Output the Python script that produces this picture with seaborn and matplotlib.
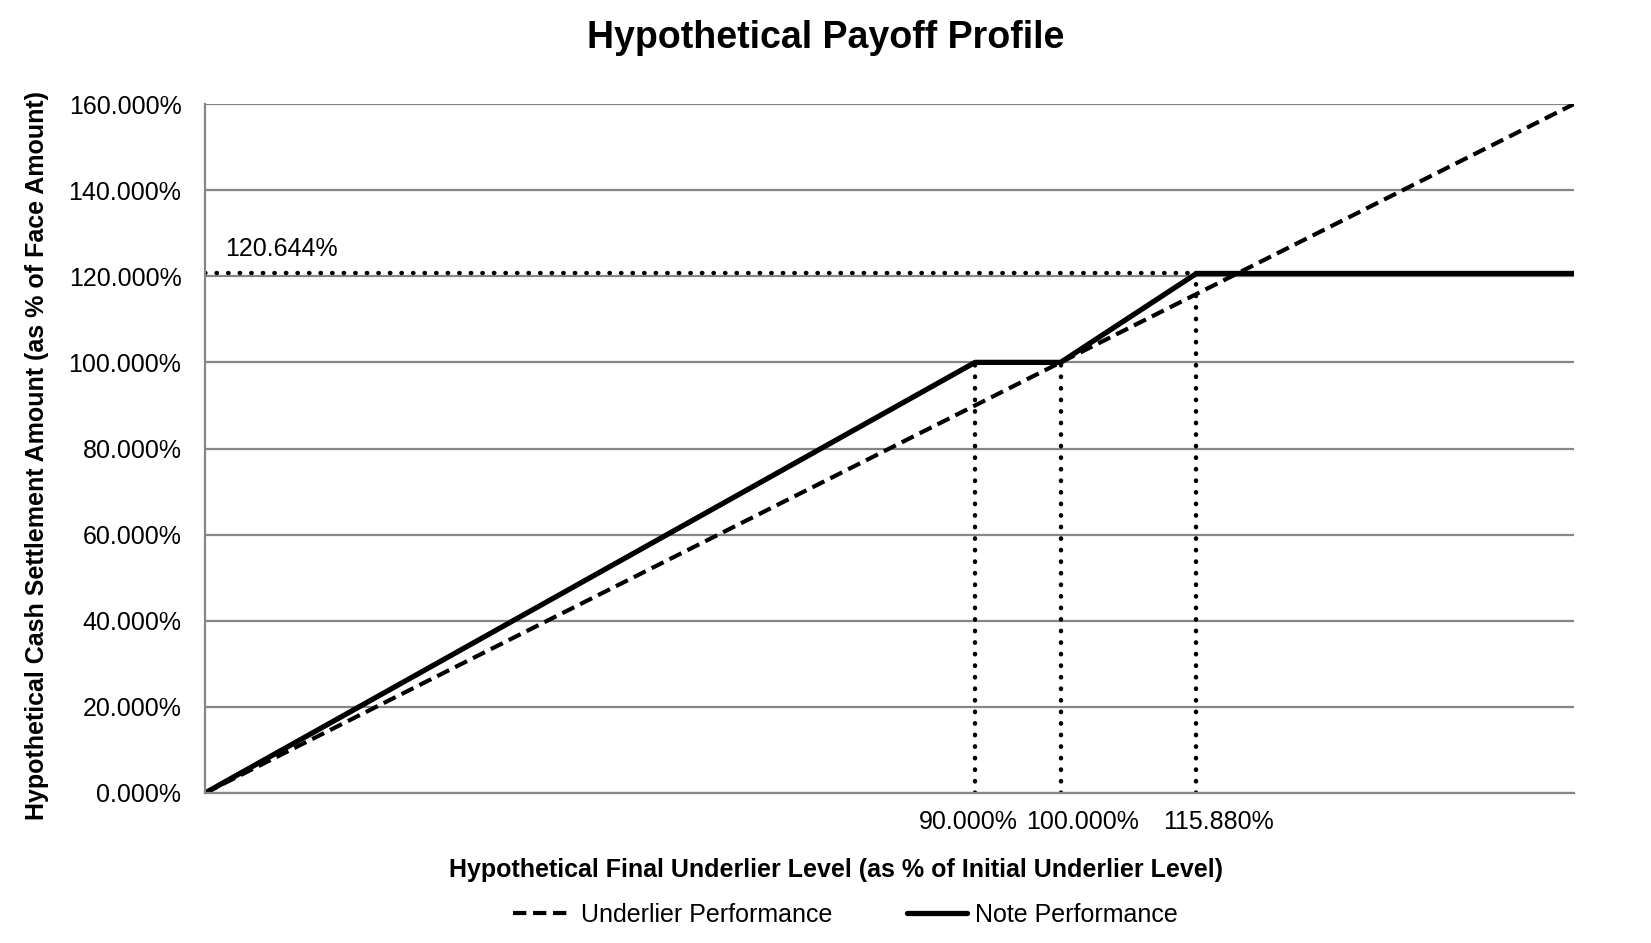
import numpy as np
import pandas as pd
import matplotlib
matplotlib.use("Agg")
import matplotlib.pyplot as plt
from matplotlib.ticker import FuncFormatter
import seaborn as sns

# payoff levels (% of initial / face amount)
underlier_x = [0, 160]
underlier_y = [0, 160]
note_x = [0, 90, 100, 115.88, 160]
note_y = [0, 100, 100, 120.644, 120.644]
buffer_level = 90
initial_level = 100
cap_level = 115.88
max_return = 120.644
x_labels = ["90.000%", "100.000%", "115.880%"]

sns.set_style("white")
plt.rcParams['font.family'] = ['Liberation Sans', 'DejaVu Sans']
plt.rcParams['text.color'] = 'black'
plt.rcParams['axes.labelcolor'] = 'black'
plt.rcParams['xtick.color'] = 'black'
plt.rcParams['ytick.color'] = 'black'

fig = plt.figure(figsize=(16.51, 9.43), dpi=100)
ax = fig.add_axes([205/1651, 1-793/943, 1369/1651, 689/943])

grid_c = "#868686"
ax.set_xlim(0, 160)
ax.set_ylim(0, 160)
ax.set_yticks(np.arange(0, 161, 20))
ax.set_xticks(np.arange(0, 151, 25))
ax.yaxis.grid(True, color=grid_c, linewidth=1.6)
ax.set_axisbelow(True)
for s in ["top", "right"]:
    ax.spines[s].set_visible(False)
for s in ["left", "bottom"]:
    ax.spines[s].set_color(grid_c)
    ax.spines[s].set_linewidth(1.6)
ax.tick_params(axis="x", direction="out", length=9, width=1.6, color=grid_c)
ax.tick_params(axis="y", direction="out", length=8, width=1.6, color=grid_c, labelsize=18, pad=9)
ax.yaxis.set_major_formatter(FuncFormatter(lambda v, p: f"{v:.3f}%"))

# dotted reference lines
dot = dict(color="black", linewidth=3.2, linestyle=(0, (0.1, 2.5)), dash_capstyle="round")
ax.plot([0, cap_level], [max_return, max_return], **dot)
ax.plot([buffer_level, buffer_level], [0, 100], **dot)
ax.plot([initial_level, initial_level], [0, 100], **dot)
ax.plot([cap_level, cap_level], [0, max_return], **dot)

df_u = pd.DataFrame({"x": underlier_x, "y": underlier_y})
df_n = pd.DataFrame({"x": note_x, "y": note_y})
sns.lineplot(data=df_u, x="x", y="y", ax=ax, color="black", linewidth=3,
             linestyle=(0, (3.2, 1.6)), label="Underlier Performance")
sns.lineplot(data=df_n, x="x", y="y", ax=ax, color="black", linewidth=3.8,
             label="Note Performance")
ax.set_xticklabels([])

ax.annotate(f"{max_return:.3f}%", (0, max_return), xytext=(20, 12), textcoords="offset pixels",
            fontsize=18, ha="left", va="bottom")
for xv, lab, off in zip([buffer_level, initial_level, cap_level], x_labels, [-7, 22, 22]):
    ax.annotate(lab, (xv, 0), xytext=(off, -29), textcoords="offset pixels",
                fontsize=18, ha="center", va="center")

ax.set_xlabel("Hypothetical Final Underlier Level (as % of Initial Underlier Level)",
              fontsize=18, fontweight="bold")
ax.xaxis.set_label_coords(0.461, -0.094)
ax.set_ylabel("Hypothetical Cash Settlement Amount (as % of Face Amount)",
              fontsize=18, fontweight="bold")
ax.yaxis.set_label_coords(-0.114, 0.49)

fig.suptitle("Hypothetical Payoff Profile", fontsize=27, fontweight="bold", x=0.5, y=1-38/943, va="center")

handles, labels = ax.get_legend_handles_labels()
ax.get_legend().remove()
fig.legend(handles, labels, loc="center", bbox_to_anchor=(0.512, 1-915/943), ncol=2,
           frameon=False, fontsize=18, handlelength=2.4, handletextpad=0.3, columnspacing=3.0)

fig.savefig("out.png", dpi=100)
